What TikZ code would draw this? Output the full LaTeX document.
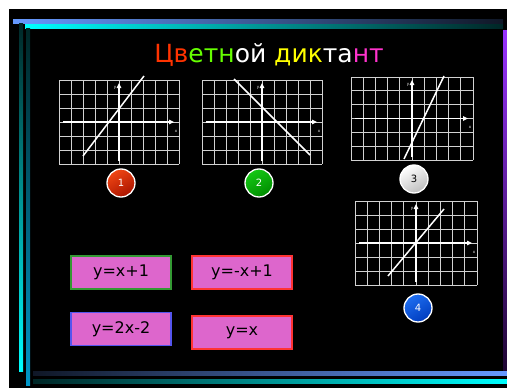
\documentclass[tikz,border=0pt]{standalone}
\usepackage{fontspec}
\setmainfont{DejaVu Sans}
\usetikzlibrary{arrows.meta}
\definecolor{tred}{RGB}{255,51,0}
\definecolor{tgreen}{RGB}{102,255,0}
\definecolor{tyellow}{RGB}{255,255,0}
\definecolor{tmag}{RGB}{255,51,204}
\definecolor{boxfill}{RGB}{221,102,204}
\definecolor{lblue}{RGB}{102,153,255}
\definecolor{bgreen}{RGB}{51,153,51}
\definecolor{bred}{RGB}{255,51,51}
\definecolor{bblue}{RGB}{85,85,238}
\definecolor{gridc}{RGB}{210,210,210}
\tikzset{
  gridline/.style={draw=gridc, line width=0.9pt},
  axisline/.style={draw=white, line width=1.5pt, -{Triangle[length=5pt,width=4.5pt]}},
  plotline/.style={draw=white, line width=1.5pt},
  axlabel/.style={text=white, font=\fontsize{4}{4}\selectfont, inner sep=0pt},
  eqbox/.style={fill=boxfill, line width=1.6pt, minimum width=100pt, minimum height=33pt, inner sep=0pt, font=\fontsize{16}{16}\selectfont, text=black},
  numball/.style={circle, draw=white, line width=1.3pt, minimum size=28pt, inner sep=0pt, font=\fontsize{10}{10}\selectfont},
}
\newcommand\plotgrid[4]{%
  \foreach \i in {0,...,10} \draw[gridline] ({#1+(#3-#1)*\i/10},#2) -- ({#1+(#3-#1)*\i/10},#4);
  \foreach \j in {0,...,6} \draw[gridline] (#1,{#2+(#4-#2)*\j/6}) -- (#3,{#2+(#4-#2)*\j/6});
  \draw[axisline] ({#1+4},{#2+(#4-#2)/2}) -- ({#3-5},{#2+(#4-#2)/2});
  \draw[axisline] ({#1+(#3-#1)/2},{#4-3}) -- ({#1+(#3-#1)/2},{#2+3});
  \node[axlabel] at ({#1+(#3-#1)/2-4},{#2+8}) {y};
  \node[axlabel] at ({#3-3},{#2+(#4-#2)/2+9}) {x};
}
\begin{document}
\begin{tikzpicture}[x=1pt,y=-1pt]
\useasboundingbox (0,0) rectangle (507,388);
\fill[white] (0,0) rectangle (507,388);
\fill[black] (9,9) rectangle (507,388);
% decorative bars
\shade[left color=lblue, right color=black!85!lblue] (13,19) rectangle (503,23);
\shade[left color=cyan, right color=black!85!cyan] (25,24) rectangle (503,28);
\shade[top color=black!85!cyan, bottom color=cyan] (19,23) rectangle (23,371);
\shade[top color=black!85!cyan, bottom color={rgb,255:red,0;green,150;blue,200}] (26,28) rectangle (30,385);
\shade[left color=black!85!lblue, right color=lblue] (33,371) rectangle (507,375);
\shade[left color=black!85!cyan, right color=cyan] (33,379) rectangle (507,383);
\shade[top color={rgb,255:red,153;green,51;blue,255}, bottom color={rgb,255:red,30;green,5;blue,50}] (503,30) rectangle (507,370);
% title
\node[anchor=base, font=\fontsize{25}{25}\selectfont, inner sep=0pt] (title) at (269,62)
 {\textcolor{tred}{Цв}\textcolor{tgreen}{етн}\textcolor{white}{ой} \textcolor{tyellow}{дик}\textcolor{white}{та}\textcolor{tmag}{нт}};
% graphs
\plotgrid{59}{80}{179}{164}
\draw[plotline] (83,156) -- (144,76);
\plotgrid{202}{80}{322}{164}
\draw[plotline] (234,79) -- (310,155);
\plotgrid{351}{77}{473}{160}
\draw[plotline] (404,159) -- (444,76);
\plotgrid{355}{201}{477}{285}
\draw[plotline] (388,276) -- (444,209);
% number balls
\node[numball, shading=axis, top color={rgb,255:red,240;green,70;blue,20}, bottom color={rgb,255:red,170;green,20;blue,0}, shading angle=30, text=white] (n1) at (121,183) {1};
\node[numball, shading=axis, top color={rgb,255:red,20;green,200;blue,20}, bottom color={rgb,255:red,0;green,140;blue,0}, shading angle=30, text=white] (n2) at (259,183) {2};
\node[numball, shading=axis, top color=white, bottom color={rgb,255:red,190;green,190;blue,190}, shading angle=30, text=black] (n3) at (414,179) {3};
\node[numball, shading=axis, top color={rgb,255:red,30;green,110;blue,240}, bottom color={rgb,255:red,0;green,60;blue,190}, shading angle=30, text=white] (n4) at (418,308) {4};
% equation boxes
\node[eqbox, draw=bgreen] (b1) at (121,272.5) {y=x+1};
\node[eqbox, draw=bred] (b2) at (242,272.5) {y=-x+1};
\node[eqbox, draw=bblue] (b3) at (121,329) {y=2x-2};
\node[eqbox, draw=bred] (b4) at (242,332.5) {y=x};
\end{tikzpicture}
\end{document}
